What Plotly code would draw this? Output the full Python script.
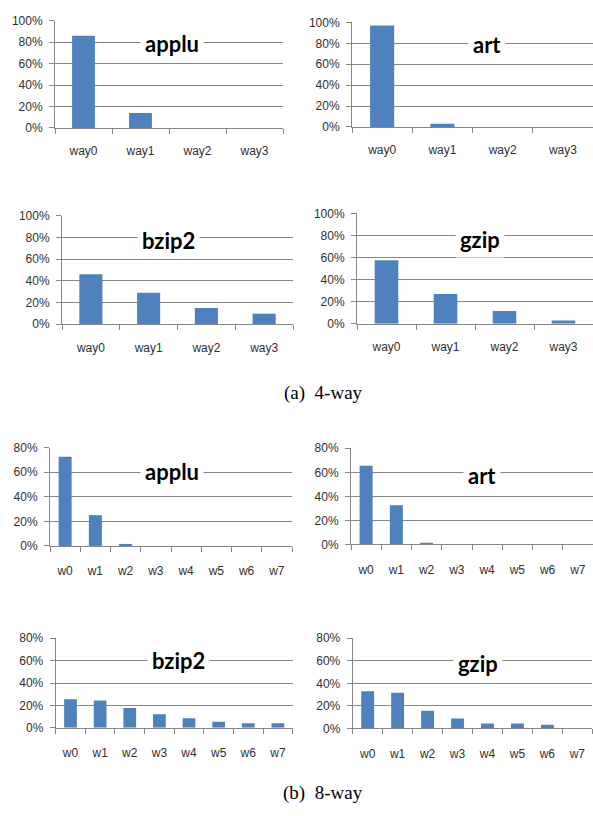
import plotly.graph_objects as go

W, H = 593, 816

ways4 = ["way0", "way1", "way2", "way3"]
ways8 = ["w0", "w1", "w2", "w3", "w4", "w5", "w6", "w7"]

applu4 = [0.86, 0.14, 0.0, 0.0]
art4 = [0.97, 0.03, 0.0, 0.0]
bzip2_4 = [0.46, 0.29, 0.15, 0.095]
gzip4 = [0.575, 0.27, 0.115, 0.03]

applu8 = [0.725, 0.25, 0.016, 0, 0, 0, 0, 0]
art8 = [0.655, 0.325, 0.013, 0, 0, 0, 0, 0]
bzip2_8 = [0.255, 0.243, 0.176, 0.12, 0.084, 0.053, 0.04, 0.04]
gzip8 = [0.329, 0.317, 0.157, 0.087, 0.044, 0.044, 0.032, 0.0]

yticks4 = [0, 0.2, 0.4, 0.6, 0.8, 1.0]
yticks8 = [0, 0.2, 0.4, 0.6, 0.8]

# (name, cats, values, ymax, yticks, x0, x1, ytop, ybottom, title_cx, title_cy)
panels = [
    ("applu", ways4, applu4, 1.0, yticks4, 55, 283, 14, 123, 172, 37),
    ("art", ways4, art4, 1.0, yticks4, 352, 593, 15.7, 122, 487, 38),
    ("bzip2", ways4, bzip2_4, 1.0, yticks4, 62, 293, 212.3, 322.7, 168, 238),
    ("gzip", ways4, gzip4, 1.0, yticks4, 357, 593, 210, 322.3, 480, 237),
    ("applu", ways8, applu8, 0.8, yticks8, 50, 292, 448.3, 548.3, 172, 473),
    ("art", ways8, art8, 0.8, yticks8, 351, 593, 449, 546.7, 482, 477),
    ("bzip2", ways8, bzip2_8, 0.8, yticks8, 55.7, 292.7, 642.3, 733.3, 178, 665),
    ("gzip", ways8, gzip8, 0.8, yticks8, 352.7, 592.3, 642.3, 734, 478, 668),
]

captions = [("(a)\u00a0\u00a04-way", 323, 393), ("(b)\u00a0\u00a08-way", 323, 800)]

BAR = "#4F81BD"
GRID = "#878787"
TICKFONT = dict(family="Liberation Sans, Arial, sans-serif", size=12, color="#303030")

fig = go.Figure()
layout = {}
annotations = []

for i, (name, cats, vals, ymax, yt, x0, x1, yt_px, yb_px, tcx, tcy) in enumerate(panels):
    k = "" if i == 0 else str(i + 1)
    bw = 0.4 if len(cats) == 4 else 0.43
    fig.add_trace(go.Bar(x=cats, y=vals, marker_color=BAR, marker_line_width=0,
                         width=bw, xaxis="x" + k, yaxis="y" + k, showlegend=False))
    layout["xaxis" + k] = dict(
        domain=[x0 / W, x1 / W], anchor="y" + k, type="category",
        showgrid=False, showline=True, linecolor=GRID, linewidth=1,
        ticks="outside", tickson="boundaries", ticklen=5, tickcolor=GRID,
        tickfont=TICKFONT, ticklabelstandoff=12 if len(cats) == 4 else 14,
        fixedrange=True,
    )
    layout["yaxis" + k] = dict(
        domain=[1 - yb_px / H, 1 - yt_px / H], anchor="x" + k,
        range=[0, ymax], tickvals=yt, tickformat=".0%",
        showgrid=True, gridcolor=GRID, gridwidth=1,
        showline=True, linecolor=GRID, linewidth=1,
        ticks="outside", ticklen=5, tickcolor=GRID, tickfont=TICKFONT,
        ticklabelstandoff=4, zeroline=False, fixedrange=True,
    )
    annotations.append(dict(
        x=tcx / W, y=1 - tcy / H, xref="paper", yref="paper",
        text="<b>" + name + "</b>", showarrow=False, xanchor="center", yanchor="middle",
        font=dict(family="Lato, Carlito, sans-serif", size=22, color="#000000"),
        bgcolor="#FFFFFF", borderpad=4,
    ))

for text, cx, cy in captions:
    annotations.append(dict(
        x=cx / W, y=1 - cy / H, xref="paper", yref="paper", text=text,
        showarrow=False, xanchor="center", yanchor="middle",
        font=dict(family="Liberation Serif, Times New Roman, serif", size=19, color="#000000"),
    ))

fig.update_layout(
    width=W, height=H, margin=dict(l=0, r=0, t=0, b=0),
    paper_bgcolor="#FFFFFF", plot_bgcolor="#FFFFFF",
    bargap=0.6, annotations=annotations, **layout,
)

fig.write_html(
    "out.html", include_plotlyjs=True, config={"displayModeBar": False},
    post_script="document.body.style.margin='0';document.body.style.padding='0';document.body.style.overflow='hidden';",
)
